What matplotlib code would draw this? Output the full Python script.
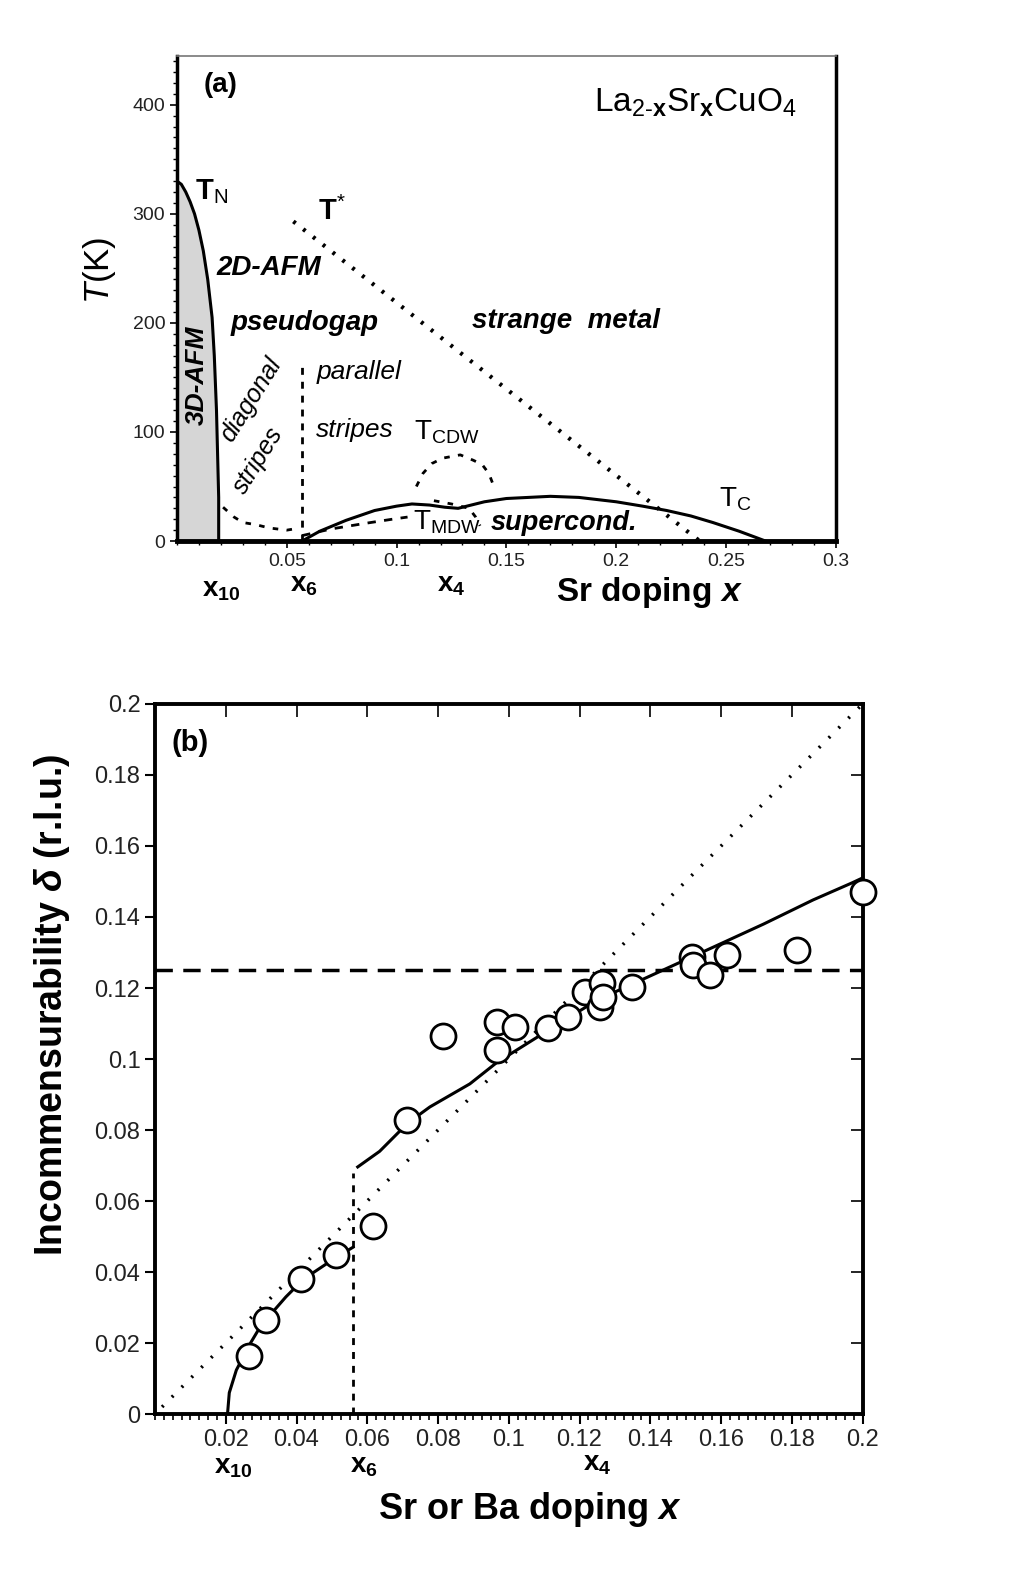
import numpy as np
import matplotlib
matplotlib.use("Agg")
from matplotlib import pyplot as plt
from matplotlib.ticker import MultipleLocator, FixedLocator

plt.rcParams['font.family'] = ['Liberation Sans', 'DejaVu Sans']
plt.rcParams['mathtext.fontset'] = 'custom'
plt.rcParams['mathtext.rm'] = 'Liberation Sans'
plt.rcParams['mathtext.it'] = 'Liberation Sans:italic'
plt.rcParams['mathtext.bf'] = 'Liberation Sans:bold'
plt.rcParams['mathtext.bfit'] = 'Liberation Sans:italic:bold'
tickfont = ['Liberation Sans Narrow', 'Liberation Sans']

# ---- panel (a) data: phase diagram
tn_x = [0.0, 0.002, 0.004, 0.006, 0.008, 0.010, 0.012, 0.014, 0.016, 0.017, 0.018, 0.0185, 0.019, 0.019]
tn_T = [330, 327, 320, 311, 300, 285, 266, 240, 205, 170, 120, 80, 40, 0]

tstar_x = [0.053, 0.238]
tstar_T = [293, 0]

tc_x = [0.057, 0.065, 0.077, 0.09, 0.1, 0.107, 0.115, 0.122, 0.128, 0.134, 0.14,
        0.15, 0.16, 0.17, 0.183, 0.2, 0.212, 0.223, 0.234, 0.244, 0.256, 0.268]
tc_T = [0, 9, 19, 28, 32, 34, 33, 31, 30, 33, 36, 39, 40, 41, 40, 36, 32, 28, 23, 17, 9, 0]

diag_x = [0.021, 0.026, 0.030, 0.036, 0.042, 0.050, 0.056]
diag_T = [31, 22, 17, 15, 12, 10, 12]

x6_line_x = [0.057, 0.057]
x6_line_T = [0, 163]

mdw_x = [0.057, 0.07, 0.085, 0.098, 0.105]
mdw_T = [5, 11, 16, 20, 22]

cdw_x = [0.109, 0.112, 0.116, 0.121, 0.129, 0.135, 0.139, 0.142, 0.1445]
cdw_T = [50, 62, 71, 76, 79, 74, 70, 62, 49]
cdw_low_x = [0.117, 0.125, 0.133, 0.136, 0.138]
cdw_low_T = [37, 34, 30, 22, 14]

# ---- panel (b) data: incommensurability
fit1_x = [0.0205, 0.021, 0.023, 0.027, 0.030, 0.037, 0.042, 0.051, 0.056]
fit1_d = [0.0, 0.006, 0.0124, 0.020, 0.025, 0.033, 0.038, 0.044, 0.047]
fit2_x = [0.0573, 0.0635, 0.0715, 0.0777, 0.089, 0.0966, 0.111, 0.125, 0.1435,
          0.158, 0.172, 0.186, 0.197, 0.2]
fit2_d = [0.0696, 0.074, 0.082, 0.0865, 0.093, 0.099, 0.108, 0.1166, 0.125,
          0.1316, 0.138, 0.1448, 0.1496, 0.151]
pts_x = [0.0266, 0.0314, 0.0412, 0.0511, 0.0616, 0.0712, 0.0814, 0.0966, 0.0966,
         0.1017, 0.111, 0.1167, 0.1215, 0.1263, 0.1257, 0.1266, 0.1347, 0.1517,
         0.1520, 0.1568, 0.1616, 0.1816, 0.2]
pts_d = [0.0163, 0.0265, 0.038, 0.0448, 0.053, 0.0828, 0.1065, 0.1104, 0.1025,
         0.109, 0.1087, 0.1118, 0.1189, 0.1214, 0.1147, 0.1175, 0.1203, 0.1287,
         0.1265, 0.1237, 0.1293, 0.1307, 0.147]
x6_b = 0.056

fig = plt.figure(figsize=(10.36, 15.71), dpi=100)

# ================= panel (a)
ax = fig.add_axes([0.1708, 0.6556, 0.636, 0.309])
ax.set_xlim(0, 0.3)
ax.set_ylim(0, 445)

ax.fill_between(tn_x, tn_T, 0, color='#d6d6d6', lw=0)
ax.plot(tn_x, tn_T, color='black', lw=2.2)
ax.plot(tstar_x, tstar_T, color='black', lw=3, ls=(0, (0.7, 2.3)))
ax.plot(tc_x, tc_T, color='black', lw=2.2)
ax.plot(diag_x, diag_T, color='black', lw=2, ls=(0, (2, 3)))
ax.plot(x6_line_x, x6_line_T, color='black', lw=2, ls=(0, (2.5, 2.5)))
ax.plot(mdw_x, mdw_T, color='black', lw=2, ls=(0, (3, 3)))
ax.plot(cdw_x, cdw_T, color='black', lw=2, ls=(0, (2, 3)))
ax.plot(cdw_low_x, cdw_low_T, color='black', lw=2, ls=(0, (2, 3)))

for s in ['left', 'right']:
    ax.spines[s].set_linewidth(2.5)
ax.spines['bottom'].set_linewidth(3.5)
ax.spines['top'].set_linewidth(1.2)
ax.spines['top'].set_color('#777777')

ax.xaxis.set_major_locator(FixedLocator([0.05, 0.1, 0.15, 0.2, 0.25, 0.3]))
ax.xaxis.set_minor_locator(MultipleLocator(0.01))
ax.yaxis.set_major_locator(MultipleLocator(100))
ax.yaxis.set_minor_locator(MultipleLocator(10))
ax.set_xticklabels(['0.05', '0.1', '0.15', '0.2', '0.25', '0.3'])
ax.tick_params(which='major', length=5, width=1.2, direction='out')
ax.tick_params(which='minor', length=3, width=1, direction='out')
for lab in ax.get_xticklabels() + ax.get_yticklabels():
    lab.set_family(tickfont)
    lab.set_fontsize(14)
    lab.set_color('#222222')

ax.text(0.02, 418, '(a)', fontsize=20, fontweight='bold', ha='center', va='center')
ax.text(0.236, 402, r'La$_{\mathrm{2\text{-}}\mathbf{x}}$Sr$_{\mathbf{x}}$CuO$_{\mathrm{4}}$',
        fontsize=24, ha='center', va='center')
ax.text(0.008, 320, r'T$_{\mathrm{N}}$', fontsize=21, fontweight='bold', va='center')
ax.text(0.064, 302, r'T$^{*}$', fontsize=21, fontweight='bold', va='center')
ax.text(0.042, 250, '2D-AFM', fontsize=20, fontweight='bold', style='italic', ha='center', va='center')
ax.text(0.058, 200, 'pseudogap', fontsize=20, fontweight='bold', style='italic', ha='center', va='center')
ax.text(0.177, 202, 'strange  metal', fontsize=20, fontweight='bold', style='italic', ha='center', va='center')
ax.text(0.009, 152, '3D-AFM', fontsize=19, fontweight='bold', style='italic', rotation=90,
        ha='center', va='center')
ax.text(0.0335, 130, 'diagonal', fontsize=18, style='italic', rotation=58, ha='center', va='center')
ax.text(0.037, 74, 'stripes', fontsize=18, style='italic', rotation=58, ha='center', va='center')
ax.text(0.083, 155, 'parallel', fontsize=19, style='italic', ha='center', va='center')
ax.text(0.081, 102, 'stripes', fontsize=19, style='italic', ha='center', va='center')
ax.text(0.123, 100, r'T$_{\mathrm{CDW}}$', fontsize=20, ha='center', va='center')
ax.text(0.123, 17, r'T$_{\mathrm{MDW}}$', fontsize=20, ha='center', va='center')
ax.text(0.176, 17, 'supercond.', fontsize=19.5, fontweight='bold', style='italic', ha='center', va='center')
ax.text(0.254, 38, r'T$_{\mathrm{C}}$', fontsize=20, ha='center', va='center')

tr = ax.get_xaxis_transform()
ax.text(0.02, -0.1, r'$\mathbf{x}_{\mathbf{10}}$', transform=tr, fontsize=20, ha='center', va='center')
ax.text(0.058, -0.09, r'$\mathbf{x}_{\mathbf{6}}$', transform=tr, fontsize=20, ha='center', va='center')
ax.text(0.125, -0.09, r'$\mathbf{x}_{\mathbf{4}}$', transform=tr, fontsize=20, ha='center', va='center')
ax.text(0.215, -0.105, r'Sr doping $\mathbfit{x}$', transform=tr, fontsize=24,
        fontweight='bold', ha='center', va='center')
fig.text(100 / 1036, 1 - 270 / 1571, r'$\mathit{T}$(K)', fontsize=25, rotation=90,
         ha='center', va='center')

# ================= panel (b)
bx = fig.add_axes([0.1496, 0.0999, 0.683, 0.452])
bx.set_xlim(0, 0.2)
bx.set_ylim(0, 0.2)

bx.plot([0.002, 0.2], [0.002, 0.2], color='black', lw=2.5, ls=(0, (0.6, 3.4)))
bx.axhline(0.125, color='black', lw=2.5, ls=(0, (5, 3)))
bx.plot([x6_b, x6_b], [0, 0.068], color='black', lw=2, ls=(0, (2.5, 2.5)))
bx.plot(fit1_x, fit1_d, color='black', lw=2.2)
bx.plot(fit2_x, fit2_d, color='black', lw=2.2)
bx.plot(pts_x, pts_d, ls='none', marker='o', ms=18, mfc='white', mec='black', mew=2,
        clip_on=False, zorder=5)

for s in bx.spines.values():
    s.set_linewidth(2.8)

bx.xaxis.set_major_locator(FixedLocator(np.arange(0.02, 0.201, 0.02)))
bx.xaxis.set_minor_locator(MultipleLocator(0.0025))
bx.yaxis.set_major_locator(MultipleLocator(0.02))
bx.set_xticklabels([f'{v:g}' for v in np.arange(0.02, 0.201, 0.02).round(2)])
bx.set_yticklabels([f'{v:g}' for v in bx.get_yticks().round(2)])
bx.tick_params(which='major', length=7, width=1.5, direction='out')
bx.tick_params(which='minor', length=4, width=1.2, direction='out')
bx.tick_params(axis='y', which='minor', left=False)
for lab in bx.get_xticklabels() + bx.get_yticklabels():
    lab.set_family(tickfont)
    lab.set_fontsize(17)
    lab.set_color('#222222')
# inward ticks on top and right
sec = bx.secondary_xaxis('top')
sec.set_xticks(np.arange(0.02, 0.201, 0.02))
sec.tick_params(direction='in', length=9, width=1.2, labeltop=False)
sec.spines['top'].set_visible(False)
secy = bx.secondary_yaxis('right')
secy.set_yticks(np.arange(0.02, 0.201, 0.02))
secy.tick_params(direction='in', length=9, width=1.2, labelright=False)
secy.spines['right'].set_visible(False)

bx.text(0.0099, 0.189, '(b)', fontsize=21, fontweight='bold', ha='center', va='center')
tr = bx.get_xaxis_transform()
bx.text(0.022, -0.075, r'$\mathbf{x}_{\mathbf{10}}$', transform=tr, fontsize=20, ha='center', va='center')
bx.text(0.059, -0.073, r'$\mathbf{x}_{\mathbf{6}}$', transform=tr, fontsize=20, ha='center', va='center')
bx.text(0.125, -0.07, r'$\mathbf{x}_{\mathbf{4}}$', transform=tr, fontsize=20, ha='center', va='center')
bx.text(0.106, -0.135, r'Sr or Ba doping $\mathbfit{x}$', transform=tr, fontsize=26,
        fontweight='bold', ha='center', va='center')
fig.text(52 / 1036, 1 - 1005 / 1571, r'Incommensurability $\mathbfit{\delta}$ (r.l.u.)', fontsize=27,
         fontweight='bold', rotation=90, ha='center', va='center')

fig.savefig('out.png', dpi=100)
